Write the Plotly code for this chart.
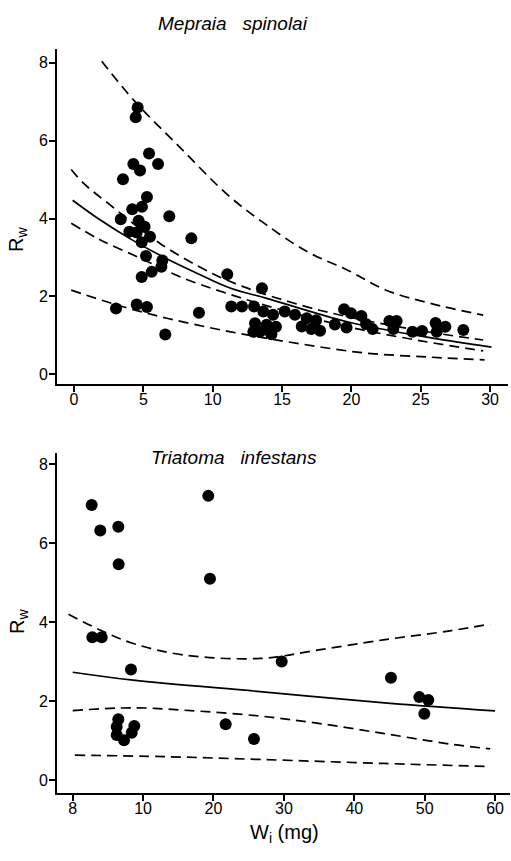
import plotly.graph_objects as go

# ---------------- Top panel: Mepraia spinolai ----------------
mep_x = [4.59, 4.45, 5.41, 4.28, 4.76, 6.06, 3.53, 5.26, 4.20, 4.90, 6.87, 3.37, 4.66, 5.09,
         3.99, 4.52, 5.48, 8.46, 4.88, 5.19, 6.37, 6.30, 5.60, 4.88, 11.05, 3.03, 4.52, 5.26,
         9.01, 6.58, 11.34, 12.11, 12.98, 13.05, 12.93, 13.55, 13.65, 14.35, 15.19, 15.93,
         16.78, 17.45, 13.89, 14.56, 13.41, 14.18, 14.23, 16.42, 17.11, 17.74, 18.81, 19.47,
         19.97, 19.65, 20.72, 21.05, 21.53, 22.74, 23.26, 23.02, 24.40, 25.10, 26.07, 26.77,
         26.15, 28.07]
mep_y = [6.85, 6.60, 5.67, 5.40, 5.23, 5.40, 5.01, 4.55, 4.24, 4.30, 4.06, 3.98, 3.94, 3.79,
         3.66, 3.64, 3.53, 3.49, 3.39, 3.04, 2.92, 2.76, 2.63, 2.50, 2.57, 1.69, 1.79, 1.73,
         1.58, 1.02, 1.74, 1.74, 1.74, 1.31, 1.09, 2.21, 1.61, 1.53, 1.61, 1.53,
         1.44, 1.39, 1.27, 1.22, 1.09, 1.07, 1.03, 1.23, 1.16, 1.12, 1.28, 1.67,
         1.57, 1.20, 1.50, 1.29, 1.16, 1.37, 1.37, 1.16, 1.09, 1.11, 1.32, 1.22,
         1.09, 1.14]

mep_fit_x = [-0.1, 1.9, 4.0, 6.4, 8.9, 11.3, 13.9, 19.7, 25.0, 30.1]
mep_fit_y = [4.47, 3.96, 3.49, 3.02, 2.59, 2.21, 1.95, 1.35, 0.98, 0.70]

mep_ci_up_x = [-0.2, 0.7, 2.6, 6.2, 9.8, 12.2, 16.3, 19.7, 25.0, 29.5]
mep_ci_up_y = [5.26, 4.90, 4.35, 3.36, 2.62, 2.25, 1.78, 1.48, 1.12, 0.88]

mep_ci_lo_x = [-0.2, 1.9, 4.8, 7.6, 11.0, 15.0, 20.0, 25.0, 29.5]
mep_ci_lo_y = [3.88, 3.45, 2.98, 2.51, 2.08, 1.65, 1.20, 0.86, 0.60]

mep_pi_up_x = [2.0, 4.3, 7.6, 11.1, 13.7, 16.8, 19.7, 22.5, 25.7, 29.5]
mep_pi_up_y = [8.04, 7.04, 5.84, 4.60, 3.88, 3.15, 2.68, 2.16, 1.82, 1.52]

mep_pi_lo_x = [-0.2, 3.1, 6.7, 11.3, 16.0, 20.9, 25.7, 29.6]
mep_pi_lo_y = [2.16, 1.78, 1.44, 1.09, 0.80, 0.55, 0.44, 0.37]

# ---------------- Bottom panel: Triatoma infestans ----------------
tri_x = [2.70, 3.92, 6.48, 6.53, 19.26, 19.50, 2.79, 4.12, 8.28, 6.48, 6.25, 6.25, 7.29,
         8.38, 8.75, 21.73, 25.75, 29.69, 45.21, 49.24, 50.51, 49.95]
tri_y = [6.97, 6.32, 6.42, 5.47, 7.20, 5.10, 3.62, 3.62, 2.80, 1.54, 1.35, 1.14, 1.01,
         1.20, 1.37, 1.41, 1.04, 3.00, 2.59, 2.10, 2.03, 1.68]

tri_fit_x = [0.0, 8.6, 26.6, 45.1, 60.0]
tri_fit_y = [2.73, 2.53, 2.24, 1.94, 1.75]

tri_pi_up_x = [-0.6, 3.9, 8.6, 15.7, 26.6, 34.7, 44.1, 53.6, 59.3]
tri_pi_up_y = [4.20, 3.80, 3.46, 3.17, 3.08, 3.29, 3.55, 3.78, 3.95]

tri_ci_lo_x = [0.0, 8.6, 15.7, 26.6, 34.7, 44.1, 53.6, 59.3]
tri_ci_lo_y = [1.76, 1.83, 1.77, 1.62, 1.44, 1.18, 0.91, 0.79]

tri_pi_lo_x = [0.3, 13.4, 26.6, 44.1, 59.3]
tri_pi_lo_y = [0.63, 0.59, 0.52, 0.42, 0.34]

top_xticks = [0, 5, 10, 15, 20, 25, 30]
bot_xticks = [0, 10, 20, 30, 40, 50, 60]
bot_xticktext = ["8", "10", "20", "30", "40", "50", "60"]
yticks = [0, 2, 4, 6, 8]

fig = go.Figure()
DASH = "10px,6px"

def add_line(x, y, xa, ya, dash=None):
    fig.add_trace(go.Scatter(x=x, y=y, mode="lines", xaxis=xa, yaxis=ya,
                             line=dict(color="black", width=1.7, dash=dash, shape="spline"),
                             showlegend=False, hoverinfo="skip"))

add_line(mep_pi_up_x, mep_pi_up_y, "x", "y", DASH)
add_line(mep_ci_up_x, mep_ci_up_y, "x", "y", DASH)
add_line(mep_fit_x, mep_fit_y, "x", "y")
add_line(mep_ci_lo_x, mep_ci_lo_y, "x", "y", DASH)
add_line(mep_pi_lo_x, mep_pi_lo_y, "x", "y", DASH)
fig.add_trace(go.Scatter(x=mep_x, y=mep_y, mode="markers", xaxis="x", yaxis="y",
                         marker=dict(color="black", size=12), showlegend=False))

add_line(tri_pi_up_x, tri_pi_up_y, "x2", "y2", DASH)
add_line(tri_fit_x, tri_fit_y, "x2", "y2")
add_line(tri_ci_lo_x, tri_ci_lo_y, "x2", "y2", DASH)
add_line(tri_pi_lo_x, tri_pi_lo_y, "x2", "y2", DASH)
fig.add_trace(go.Scatter(x=tri_x, y=tri_y, mode="markers", xaxis="x2", yaxis="y2",
                         marker=dict(color="black", size=12), showlegend=False))

W, H = 511, 861
FONT = "Liberation Sans, Arial, sans-serif"
axcommon = dict(showline=True, linecolor="black", linewidth=2, ticks="outside",
                ticklen=6, tickwidth=1.5, tickcolor="black", showgrid=False,
                zeroline=False, mirror=False, automargin=False,
                ticklabeloverflow="allow",
                tickfont=dict(family=FONT, size=16, color="black"))

fig.update_layout(
    width=W, height=H, margin=dict(l=0, r=0, t=0, b=0, autoexpand=False),
    paper_bgcolor="white", plot_bgcolor="white", showlegend=False,
    xaxis=dict(domain=[57 / W, 508 / W], range=[-1.226, 31.29], tickvals=top_xticks,
               anchor="y", ticklabelstandoff=-6, **axcommon),
    yaxis=dict(domain=[1 - 384 / H, 1 - 49 / H], range=[-0.249, 8.352], tickvals=yticks,
               anchor="x", ticklabelstandoff=-2, **axcommon),
    xaxis2=dict(domain=[57 / W, 510 / W], range=[-2.23, 62.12], tickvals=bot_xticks,
                ticktext=bot_xticktext, anchor="y2", ticklabelstandoff=-6, **axcommon),
    yaxis2=dict(domain=[1 - 792.7 / H, 1 - 452.7 / H], range=[-0.322, 8.294],
                tickvals=yticks, anchor="x2", ticklabelstandoff=-2, **axcommon),
)

def ann(text, px, py, size, angle=0):
    fig.add_annotation(text=text, xref="paper", yref="paper", x=px / W, y=1 - py / H,
                       xanchor="center", yanchor="middle", showarrow=False,
                       textangle=angle, font=dict(family=FONT, size=size, color="black"))

ann("<i>Mepraia&nbsp;&nbsp;&nbsp;spinolai</i>", 233, 23, 19)
ann("<i>Triatoma&nbsp;&nbsp;&nbsp;infestans</i>", 234, 457, 19)
ann("R<sub>w</sub>", 18, 240, 20, -90)
ann("R<sub>w</sub>", 18, 622, 20, -90)
ann("W<sub>i</sub> (mg)", 284, 833, 20)

fig.write_html("out.html", post_script="document.body.style.margin='0';",
               config={"displayModeBar": False})
